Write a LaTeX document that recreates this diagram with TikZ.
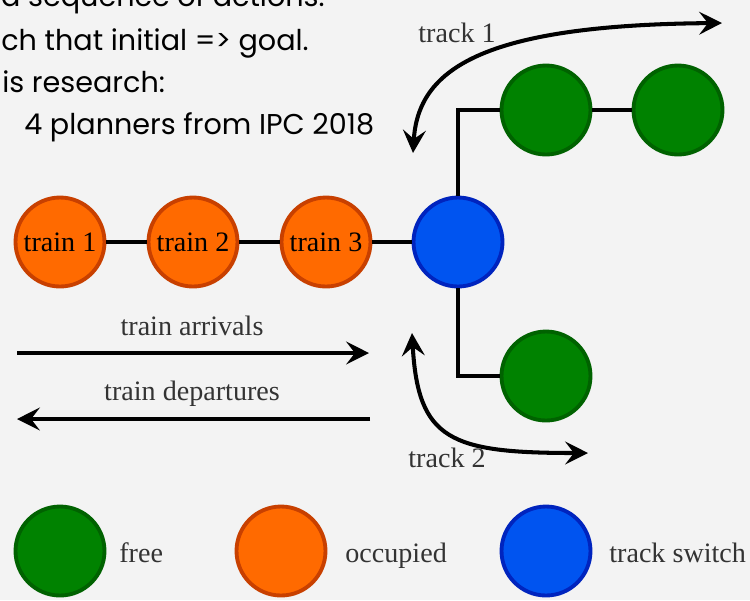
\documentclass[tikz,border=0pt]{standalone}
\usepackage{fontspec}
\setmainfont{Liberation Serif}
\newfontfamily\slidefont{Poppins}
\usetikzlibrary{arrows.meta,calc}

\definecolor{freefill}{RGB}{0,130,0}
\definecolor{freedraw}{RGB}{0,98,0}
\definecolor{occfill}{RGB}{255,106,0}
\definecolor{occdraw}{RGB}{200,64,0}
\definecolor{switchfill}{RGB}{0,84,240}
\definecolor{switchdraw}{RGB}{0,36,190}
\definecolor{slidebg}{RGB}{243,243,243}

\begin{document}
\begin{tikzpicture}[
  x=0.02cm, y=-0.02cm,
  spot/.style={
      circle,
      inner sep=0pt,
      minimum size=1.78cm,
      line width=2.2pt,
      font=\fontsize{16}{19}\selectfont
    },
  free/.style={spot, fill=freefill, draw=freedraw},
  occupied/.style={spot, fill=occfill, draw=occdraw},
  switch/.style={spot, fill=switchfill, draw=switchdraw},
  track/.style={
      line width=2.3pt,
      line join=miter
    },
  move arrow/.style={
      line width=2.3pt,
      arrows = {-Stealth[length=13pt,width=13pt,inset=5pt]}
    },
  both arrow/.style={
      line width=2.3pt,
      arrows = {Stealth[length=13pt,width=13pt,inset=5pt]-Stealth[length=13pt,width=13pt,inset=5pt]}
    },
  caption/.style={
      anchor=base,
      inner sep=0pt,
      text=black!80,
      font=\fontsize{16}{19}\selectfont
    },
  slide text/.style={
      inner sep=0pt,
      text=black,
      font=\slidefont\fontsize{16.3}{20}\selectfont
    }]
  \fill [slidebg] (0,0) rectangle (750,600);
  \useasboundingbox (0,0) rectangle (750,600);

  % remains of the slide text
  \node [slide text, anchor=base east] (line_a) at (325,6) {id sequence of actions.};
  \node [slide text, anchor=base west] (line_b) at (1,50) {ch that initial => goal.};
  \node [slide text, anchor=base west] (line_c) at (2,92) {is research:};
  \node [slide text, anchor=base west] (line_d) at (24,134) {4 planners from IPC 2018};

  \begin{scope}
    \node [occupied] (train_1) at (60,242) {train 1};
    \node [occupied] (train_2) at ($(train_1) + (133,0)$) {train 2};
    \node [occupied] (train_3) at ($(train_2) + (133,0)$) {train 3};
    \node [switch] (sw) at ($(train_3) + (132,0)$) {};

    \node [free] (free_1) at (546,110) {};
    \node [free] (free_2) at ($(free_1) + (132,0)$) {};
    \node [free] (free_3) at (546,376) {};

    \draw [track] (train_1) -- (train_2);
    \draw [track] (train_2) -- (train_3);
    \draw [track] (train_3) -- (sw);
    \draw [track] (sw.north) |- (free_1.west);
    \draw [track] (free_1) -- (free_2);
    \draw [track] (sw.south) |- (free_3.west);
  \end{scope}

  \begin{scope}
    \coordinate (arr_a) at (17,353);
    \coordinate (arr_b) at (369,353);
    \coordinate (dep_a) at (370,419);
    \coordinate (dep_b) at (17,419);
    \draw [move arrow] (arr_a) -- (arr_b);
    \draw [move arrow] (dep_a) -- (dep_b);
    \node [caption] (arr_label) at (192,335) {train arrivals};
    \node [caption] (dep_label) at (192,400) {train departures};

    \coordinate (t1_a) at (413,153);
    \coordinate (t1_b) at (722,23);
    \draw [both arrow] (t1_a) .. controls (418,70) and (480,25) .. (t1_b);
    \node [caption] (t1_label) at (457,42) {track 1};

    \coordinate (t2_a) at (412,333);
    \coordinate (t2_b) at (588,453);
    \draw [both arrow] (t2_a) .. controls (418,440) and (450,453) .. (t2_b);
    \node [caption] (t2_label) at (447,467) {track 2};
  \end{scope}

  % legend
  \begin{scope}
    \node [free] (key_free) at (60,551) {};
    \node [occupied] (key_occ) at (281,551) {};
    \node [switch] (key_sw) at (546,551) {};
    \node [caption, anchor=base west] (key_free_text) at (119,562) {free};
    \node [caption, anchor=base west] (key_occ_text) at (345,562) {occupied};
    \node [caption, anchor=base west] (key_sw_text) at (609,562) {track switch};
  \end{scope}
\end{tikzpicture}
\end{document}
